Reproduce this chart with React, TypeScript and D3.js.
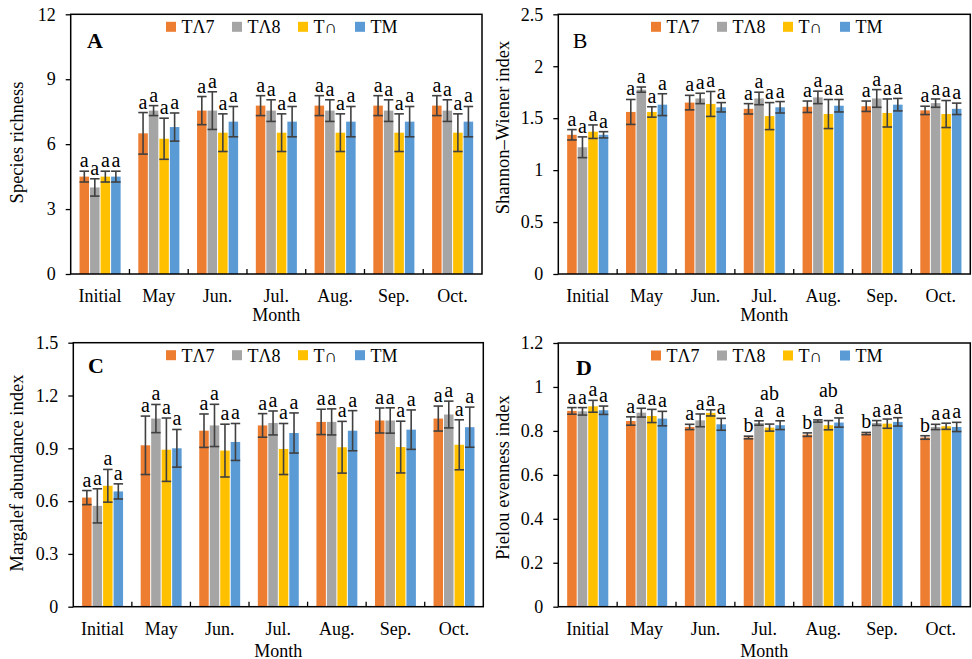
import React, { useEffect, useRef } from "react";
import * as d3 from "d3";

// categories and series
const months = ["Initial", "May", "Jun.", "Jul.", "Aug.", "Sep.", "Oct."];
const treatments = ["TΛ7", "TΛ8", "T∩", "TM"];
const colors = ["#ED7D31", "#A5A5A5", "#FFC000", "#5B9BD5"];

// A: species richness (mean, error) per treatment
const richnessMean = [
	[4.5, 6.5, 7.55, 7.78, 7.78, 7.78, 7.78],
	[4.0, 7.55, 7.55, 7.55, 7.55, 7.55, 7.55],
	[4.5, 6.25, 6.53, 6.53, 6.53, 6.53, 6.53],
	[4.5, 6.79, 7.04, 7.04, 7.04, 7.04, 7.04]
];
const richnessErr = [
	[0.25, 0.96, 0.65, 0.46, 0.46, 0.46, 0.46],
	[0.4, 0.23, 0.87, 0.5, 0.5, 0.5, 0.5],
	[0.25, 0.95, 0.87, 0.87, 0.87, 0.87, 0.87],
	[0.25, 0.65, 0.7, 0.7, 0.7, 0.7, 0.7]
];

// B: Shannon-Wiener
const shannonMean = [
	[1.34, 1.56, 1.65, 1.59, 1.61, 1.615, 1.575],
	[1.22, 1.775, 1.69, 1.69, 1.7, 1.69, 1.645],
	[1.37, 1.56, 1.637, 1.52, 1.54, 1.55, 1.54],
	[1.34, 1.63, 1.605, 1.605, 1.62, 1.63, 1.59]
];
const shannonErr = [
	[0.05, 0.12, 0.07, 0.05, 0.055, 0.05, 0.04],
	[0.1, 0.025, 0.05, 0.06, 0.06, 0.085, 0.04],
	[0.065, 0.05, 0.12, 0.13, 0.14, 0.135, 0.13],
	[0.03, 0.105, 0.045, 0.055, 0.06, 0.06, 0.055]
];

// C: Margalef
const margalefMean = [
	[0.62, 0.917, 1.0, 1.03, 1.05, 1.058, 1.069],
	[0.573, 1.069, 1.03, 1.044, 1.05, 1.058, 1.092],
	[0.687, 0.892, 0.887, 0.896, 0.906, 0.907, 0.92],
	[0.655, 0.9, 0.936, 0.987, 1.0, 1.006, 1.02]
];
const margalefErr = [
	[0.04, 0.166, 0.095, 0.067, 0.072, 0.071, 0.071],
	[0.097, 0.08, 0.12, 0.068, 0.074, 0.072, 0.076],
	[0.093, 0.18, 0.15, 0.145, 0.147, 0.147, 0.142],
	[0.043, 0.107, 0.105, 0.114, 0.114, 0.112, 0.114]
];

// D: Pielou
const pielouMean = [
	[0.891, 0.845, 0.818, 0.77, 0.783, 0.788, 0.77],
	[0.889, 0.883, 0.848, 0.836, 0.845, 0.836, 0.818],
	[0.912, 0.868, 0.882, 0.815, 0.826, 0.833, 0.821],
	[0.894, 0.856, 0.83, 0.826, 0.838, 0.841, 0.818]
];
const pielouErr = [
	[0.015, 0.019, 0.012, 0.006, 0.008, 0.005, 0.008],
	[0.017, 0.02, 0.029, 0.01, 0.005, 0.011, 0.012],
	[0.027, 0.03, 0.014, 0.016, 0.021, 0.021, 0.014],
	[0.019, 0.033, 0.027, 0.02, 0.021, 0.019, 0.021]
];

// significance letters
const allA = ["a", "a", "a", "a", "a", "a", "a"];
const lettersAll = [allA, allA, allA, allA];
const pielouLetters = [
	["a", "a", "a", "b", "b", "b", "b"],
	["a", "a", "a", "a", "a", "a", "a"],
	["a", "a", "a", "ab", "ab", "a", "a"],
	["a", "a", "a", "a", "a", "a", "a"]
];

// tick labels
const richnessTicks = [0, 3, 6, 9, 12];
const shannonTicks = [0, 0.5, 1, 1.5, 2, 2.5];
const margalefTicks = [0, 0.3, 0.6, 0.9, 1.2, 1.5];
const pielouTicks = [0, 0.2, 0.4, 0.6, 0.8, 1, 1.2];

const FONT = "'Liberation Serif', 'Times New Roman', serif";

const panels = [
	{
		tag: "A", bold: true, mean: richnessMean, err: richnessErr, letters: lettersAll, ticks: richnessTicks,
		title: "Species richness", left: 70.7, top: 14.3, right: 482, bottom: 274,
		titleX: 23, titleY: 142.5, tagX: 87, tagY: 48, legendX: 166, monthY: 320.5, fmt: (d) => d3.format("d")(d)
	},
	{
		tag: "B", bold: false, mean: shannonMean, err: shannonErr, letters: lettersAll, ticks: shannonTicks,
		title: "Shannon–Wiener index", left: 558.3, top: 14.3, right: 970.3, bottom: 274,
		titleX: 509, titleY: 127.5, tagX: 572.7, tagY: 48, legendX: 651, monthY: 320.5, fmt: (d) => String(d)
	},
	{
		tag: "C", bold: true, mean: margalefMean, err: margalefErr, letters: lettersAll, ticks: margalefTicks,
		title: "Margalef abundance index", left: 73.3, top: 342.7, right: 483.3, bottom: 606.7,
		titleX: 23, titleY: 473, tagX: 88, tagY: 373, legendX: 166, monthY: 656.5, fmt: (d) => String(d)
	},
	{
		tag: "D", bold: true, mean: pielouMean, err: pielouErr, letters: pielouLetters, ticks: pielouTicks,
		title: "Pielou evenness index", left: 558.3, top: 343, right: 970.3, bottom: 606.7,
		titleX: 509, titleY: 477.5, tagX: 576, tagY: 375, legendX: 651, monthY: 656.5, fmt: (d) => String(d)
	}
];

const legendOffsets = [0, 66, 132, 189];

function drawPanel(root, p) {
	const g = root.append("g");
	const x0 = d3
		.scaleBand()
		.domain(months)
		.range([p.left, p.right])
		.paddingInner(0.284)
		.paddingOuter(0.142);
	const x1 = d3.scaleBand().domain(treatments).range([0, x0.bandwidth()]);
	const yMax = p.ticks[p.ticks.length - 1];
	const y = d3.scaleLinear().domain([0, yMax]).range([p.bottom, p.top]);

	// y axis
	const yAxis = d3.axisLeft(y).tickValues(p.ticks).tickSize(5).tickPadding(10).tickFormat(p.fmt);
	const ya = g.append("g").attr("transform", `translate(${p.left},0)`).call(yAxis);
	ya.select(".domain").remove();
	ya.selectAll("line").attr("stroke", "#000").attr("stroke-width", 1.3);
	ya.selectAll("text")
		.attr("font-family", FONT)
		.attr("font-size", 18)
		.attr("fill", "#000");
	ya.attr("font-family", null).attr("font-size", null);

	// bars
	treatments.forEach((t, si) => {
		const rows = months.map((m, mi) => ({ m, v: p.mean[si][mi], e: p.err[si][mi], l: p.letters[si][mi] }));
		g.append("g")
			.selectAll("rect")
			.data(rows)
			.enter()
			.append("rect")
			.attr("x", (d) => x0(d.m) + x1(t) + 0.5)
			.attr("y", (d) => y(d.v))
			.attr("width", x1.bandwidth() - 1)
			.attr("height", (d) => p.bottom - y(d.v))
			.attr("fill", colors[si]);

		const eb = g.append("g").attr("stroke", "#404040").attr("stroke-width", 1.6);
		rows.forEach((d) => {
			const cx = x0(d.m) + x1(t) + x1.bandwidth() / 2;
			const hw = x1.bandwidth() / 2 - 0.5;
			eb.append("line").attr("x1", cx).attr("x2", cx).attr("y1", y(d.v + d.e)).attr("y2", y(d.v - d.e));
			eb.append("line").attr("x1", cx - hw).attr("x2", cx + hw).attr("y1", y(d.v + d.e)).attr("y2", y(d.v + d.e));
			eb.append("line").attr("x1", cx - hw).attr("x2", cx + hw).attr("y1", y(d.v - d.e)).attr("y2", y(d.v - d.e));
			g.append("text")
				.attr("x", cx)
				.attr("y", y(d.v + d.e) - 4 - (d.l.length > 1 ? 20 : 0))
				.attr("text-anchor", "middle")
				.attr("font-family", FONT)
				.attr("font-size", 20)
				.text(d.l);
		});
	});

	// frame
	g.append("rect")
		.attr("x", p.left)
		.attr("y", p.top)
		.attr("width", p.right - p.left)
		.attr("height", p.bottom - p.top)
		.attr("fill", "none")
		.attr("stroke", "#000")
		.attr("stroke-width", 1.5);

	// inward category ticks on the bottom axis
	const gap = (x0.step() - x0.bandwidth()) / 2;
	months.slice(1).forEach((m) => {
		const bx = x0(m) - gap;
		g.append("line")
			.attr("x1", bx).attr("x2", bx)
			.attr("y1", p.bottom).attr("y2", p.bottom - 5)
			.attr("stroke", "#000").attr("stroke-width", 1.3);
	});

	// x labels
	g.append("g")
		.selectAll("text")
		.data(months)
		.enter()
		.append("text")
		.attr("x", (m) => x0(m) + x0.bandwidth() / 2)
		.attr("y", p.bottom + 28)
		.attr("text-anchor", "middle")
		.attr("font-family", FONT)
		.attr("font-size", 18)
		.text((m) => m);

	g.append("text")
		.attr("x", (p.left + p.right) / 2)
		.attr("y", p.monthY)
		.attr("text-anchor", "middle")
		.attr("font-family", FONT)
		.attr("font-size", 18)
		.text("Month");

	// y title
	g.append("text")
		.attr("transform", `translate(${p.titleX},${p.titleY}) rotate(-90)`)
		.attr("text-anchor", "middle")
		.attr("font-family", FONT)
		.attr("font-size", 18.5)
		.text(p.title);

	// panel tag
	g.append("text")
		.attr("x", p.tagX)
		.attr("y", p.tagY)
		.attr("font-family", FONT)
		.attr("font-size", 22)
		.attr("font-weight", p.bold ? "bold" : "normal")
		.text(p.tag);

	// legend
	const ly = p.top + 12.5;
	treatments.forEach((t, i) => {
		const lx = p.legendX + legendOffsets[i];
		g.append("rect").attr("x", lx).attr("y", ly - 5).attr("width", 10).attr("height", 10).attr("fill", colors[i]);
		g.append("text")
			.attr("x", lx + 15.5)
			.attr("y", ly + 6.5)
			.attr("font-family", FONT)
			.attr("font-size", 18)
			.text(t);
	});
}

export default function App() {
	const ref = useRef(null);
	useEffect(() => {
		const svg = d3.select(ref.current);
		svg.selectAll("*").remove();
		svg.append("rect").attr("width", 972).attr("height", 659).attr("fill", "#fff");
		panels.forEach((p) => drawPanel(svg, p));
	}, []);
	return (
		<svg
			ref={ref}
			width={972}
			height={659}
			style={{ position: "absolute", left: 0, top: 0 }}
		/>
	);
}
